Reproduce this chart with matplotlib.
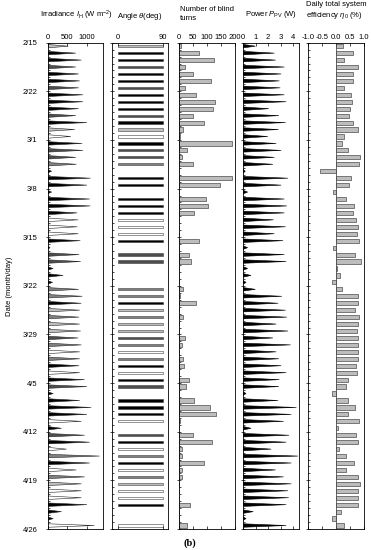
import numpy as np
import matplotlib.pyplot as plt
from matplotlib.ticker import MultipleLocator

plt.rcParams['font.family'] = ['Liberation Sans', 'DejaVu Sans']
plt.rcParams['mathtext.fontset'] = 'custom'
plt.rcParams['mathtext.rm'] = 'Liberation Sans'
plt.rcParams['mathtext.it'] = 'Liberation Sans:italic'

# one row per day, 2/15 .. 4/25
date_labels = ['2/15', '2/22', '3/1', '3/8', '3/15', '3/22', '3/29', '4/5', '4/12', '4/19', '4/26']

irradiance_peak = [520, 715, 857, 715, 790, 815, 790, 900, 900, 790,
                   715, 1000, 690, 590, 880, 900, 715, 730, 100, 1090,
                   1000, 100, 1070, 1085, 750, 775, 755, 780, 830, 60,
                   800, 840, 140, 395, 125, 790, 880, 857, 815, 800,
                   815, 840, 775, 857, 815, 815, 800, 815, 940, 1000,
                   140, 815, 1110, 1000, 857, 350, 940, 1070, 480, 1320,
                   1070, 730, 940, 857, 857, 857, 1000, 350, 140, 1190]

# blind state per day: k black, d dark, m medium, l light, w white, n none
angle_state = ['l', 'k', 'k', 'd', 'k', 'k', 'd', 'k', 'k', 'k',
               'd', 'k', 'l', 'w', 'k', 'd', 'd', 'm', 'n', 'k',
               'k', 'n', 'k', 'k', 'k', 'w', 'w', 'w', 'k', 'n',
               'd', 'd', 'n', 'n', 'n', 'm', 'm', 'k', 'l', 'm',
               'l', 'l', 'd', 'm', 'w', 'm', 'k', 'w', 'k', 'd',
               'n', 'k', 'k', 'k', 'w', 'n', 'd', 'k', 'w', 'm',
               'k', 'w', 'm', 'l', 'w', 'w', 'k', 'n', 'n', 'w']

blind_turns = [8, 71, 126, 23, 51, 115, 23, 62, 128, 121,
               51, 91, 16, 5, 189, 28, 10, 50, 0, 189,
               145, 0, 95, 103, 54, 1, 1, 1, 73, 0,
               37, 43, 0, 0, 0, 13, 4, 61, 0, 14,
               0, 0, 23, 12, 0, 14, 18, 0, 34, 24,
               0, 54, 109, 131, 4, 0, 51, 117, 12, 12,
               91, 12, 12, 0, 0, 0, 40, 0, 0, 28]

power_peak = [0.97, 2.5, 2.6, 3.3, 3.05, 2.9, 2.97, 3.3, 3.45, 2.05,
              2.86, 3.4, 2.84, 1.97, 2.65, 3.05, 2.5, 2.38, 0.16, 3.6,
              3.05, 0.35, 3.3, 3.5, 3.3, 2.43, 3.4, 2.5, 3.2, 0.35,
              3.3, 3.45, 0.35, 0.62, 0.22, 0.97, 3.1, 2.8, 3.4, 3.5,
              2.65, 3.6, 2.38, 3.8, 2.65, 2.86, 3.05, 3.45, 2.9, 2.86,
              0.22, 2.8, 4.27, 3.86, 3.24, 0.62, 3.68, 3.45, 2.24, 4.4,
              3.86, 2.6, 3.24, 3.86, 3.6, 3.65, 3.45, 0.8, 0.22, 3.45]

efficiency = [0.26, 0.60, 0.31, 0.79, 0.63, 0.63, 0.31, 0.56, 0.58, 0.52,
              0.49, 0.62, 0.81, 0.31, 0.23, 0.44, 0.87, 0.83, -0.56, 0.55,
              0.46, -0.08, 0.38, 0.65, 0.60, 0.73, 0.79, 0.77, 0.82, -0.08,
              0.69, 0.92, 0.06, 0.17, -0.12, 0.24, 0.81, 0.81, 0.70, 0.83,
              0.81, 0.77, 0.81, 0.81, 0.81, 0.79, 0.71, 0.77, 0.44, 0.36,
              -0.13, 0.44, 0.69, 0.45, 0.82, 0.07, 0.73, 0.81, 0.12, 0.35,
              0.67, 0.35, 0.81, 0.85, 0.81, 0.81, 0.81, 0.20, -0.15, 0.30]

state_color = {'k': 'black', 'd': '0.3', 'm': '0.5', 'l': '0.75', 'w': 'white'}

days = np.arange(len(blind_turns))
W, H = 371, 550
fig = plt.figure(figsize=(W / 100, H / 100), dpi=100)

lefts = [47.7, 112, 179, 243.3, 307.7]
widths = [55, 56.3, 56, 56, 56]
top, bottom = 42.7, 529
axes = []
for l, w in zip(lefts, widths):
    ax = fig.add_axes([l / W, 1 - bottom / H, w / W, (bottom - top) / H])
    axes.append(ax)

ax1, ax2, ax3, ax4, ax5 = axes

# irradiance spikes, filled by blind state
for d in days:
    c = state_color.get(angle_state[d], 'black')
    ax1.fill([0, irradiance_peak[d], 0], [d + 0.25, d + 0.5, d + 0.75],
             facecolor=c, edgecolor='0.15', linewidth=0.4)
ax1.set_xlim(0, 1400)
ax1.set_xticks([0, 500, 1000])

# blind angle bars
for d in days:
    if angle_state[d] != 'n':
        ax2.barh(d + 0.5, 90, left=0, height=0.32, color=state_color[angle_state[d]],
                 edgecolor='0.25', linewidth=0.4)
ax2.set_xlim(-12, 100)
ax2.set_xticks([0, 90])

# number of blind turns
ax3.barh(days + 0.5, blind_turns, height=0.6, color='#bdbdbd', edgecolor='0.3', linewidth=0.5)
ax3.set_xlim(0, 200)
ax3.set_xticks([0, 50, 100, 150, 200])

# PV power spikes
for d in days:
    ax4.fill([0, power_peak[d], 0], [d + 0.25, d + 0.5, d + 0.75],
             facecolor='black', edgecolor='black', linewidth=0.4)
ax4.set_xlim(0, 4.5)
ax4.set_xticks([0, 1, 2, 3, 4])

# daily total system efficiency
ax5.barh(days + 0.5, efficiency, height=0.6, color='#bdbdbd', edgecolor='0.3', linewidth=0.5)
ax5.axvline(0, color='0.3', linewidth=0.6)
ax5.set_xlim(-1, 1)
ax5.set_xticks([-1.0, -0.5, 0.0, 0.5, 1.0])
ax5.set_xticklabels(['-1.0', '-0.5', '0.0', '0.5', '1.0'])

for i, ax in enumerate(axes):
    ax.set_ylim(70, 0)
    ax.set_yticks(np.arange(0, 71, 7))
    ax.yaxis.set_minor_locator(MultipleLocator(1))
    ax.tick_params(which='both', direction='in', top=True, bottom=True, right=False,
                   labeltop=True, labelbottom=False, labelsize=5.5, width=0.5, pad=1.5)
    ax.tick_params(which='major', length=2.5)
    ax.tick_params(which='minor', length=1.5)
    ax.tick_params(axis='y', which='major', direction='inout', length=3)
    for s in ax.spines.values():
        s.set_linewidth(0.6)
    if i == 0:
        ax.set_yticklabels(date_labels)
        ax.tick_params(axis='y', pad=6)
    else:
        ax.set_yticklabels([])

fig.text(10 / W, 1 - 286 / H, 'Date (month/day)', rotation=90, ha='center', va='center', fontsize=5.5)

fig.text(76 / W, 1 - 15 / H, r'Irradiance $I_\mathrm{H}$ (W m$^{-2}$)', ha='center', va='center', fontsize=5.5)
fig.text(140 / W, 1 - 17 / H, r'Angle $\theta$(deg)', ha='center', va='center', fontsize=5.5)
fig.text(180 / W, 1 - 14 / H, 'Number of blind\nturns', ha='left', va='center', fontsize=5.5,
         linespacing=1.3)
fig.text(271 / W, 1 - 15 / H, r'Power $P_\mathrm{PV}$ (W)', ha='center', va='center', fontsize=5.5)
fig.text(306 / W, 1 - 11 / H, 'Daily total system\n' + r'efficiency $\eta_0$ (%)', ha='left',
         va='center', fontsize=5.5, linespacing=1.3)

fig.text(190 / W, 1 - 543 / H, '(b)', ha='center', va='center', fontsize=7.5,
         family='Liberation Serif', weight='bold')

fig.savefig('out.png', dpi=100)
